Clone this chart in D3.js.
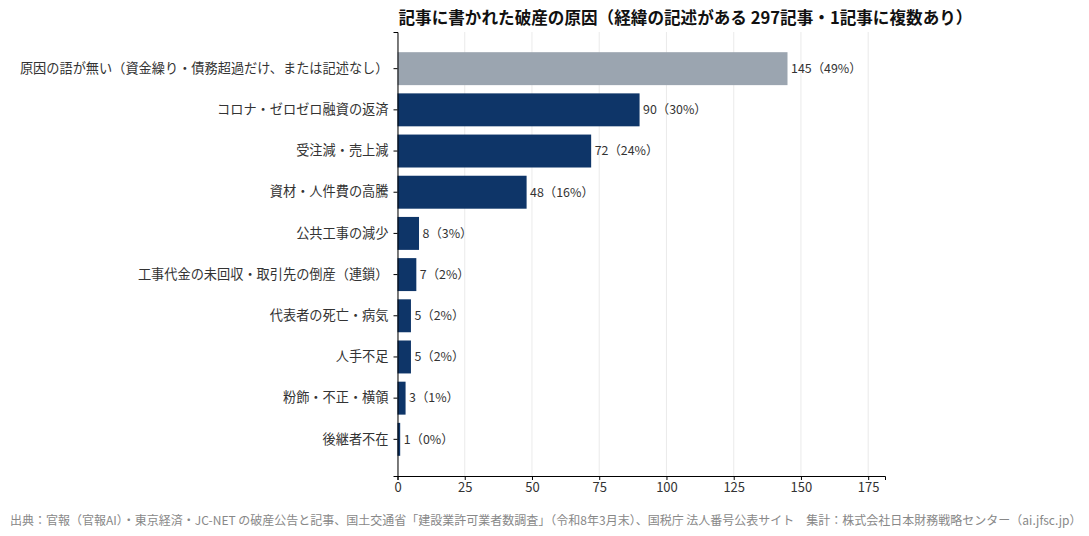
<!DOCTYPE html>
<html>
<head>
<meta charset="utf-8">
<script src="https://cdn.jsdelivr.net/npm/d3@7"></script>
<style>
  body { margin: 0; background: #fff; }
  svg text { font-family: "Noto Sans CJK JP", "Noto Sans", sans-serif; }
</style>
</head>
<body>
<svg id="chart" width="1089" height="536"></svg>
<script>
// causes, top to bottom
const causes = [
  '原因の語が無い（資金繰り・債務超過だけ、または記述なし）',
  'コロナ・ゼロゼロ融資の返済',
  '受注減・売上減',
  '資材・人件費の高騰',
  '公共工事の減少',
  '工事代金の未回収・取引先の倒産（連鎖）',
  '代表者の死亡・病気',
  '人手不足',
  '粉飾・不正・横領',
  '後継者不在'
]
const counts = [145, 90, 72, 48, 8, 7, 5, 5, 3, 1]
const shares = [49, 30, 24, 16, 3, 2, 2, 2, 1, 0]
const xTicks = [0, 25, 50, 75, 100, 125, 150, 175]

const titleText = '記事に書かれた破産の原因（経緯の記述がある 297記事・1記事に複数あり）'
const sourceText = '出典：官報（官報AI）・東京経済・JC-NET の破産公告と記事、国土交通省「建設業許可業者数調査」（令和8年3月末）、国税庁 法人番号公表サイト　集計：株式会社日本財務戦略センター（ai.jfsc.jp）'

const margin = { top: 32, right: 204, bottom: 60, left: 397.5 }
const width = 1089 - margin.left - margin.right
const height = 536 - margin.top - margin.bottom

const svg = d3.select('#chart')
const g = svg.append('g').attr('transform', `translate(${margin.left},${margin.top})`)

const xScale = d3.scaleLinear()
  .domain([0, d3.max(counts) * 1.25])
  .range([0, width])

// like matplotlib barh: 0.8 bar height, about half a step of margin at each end
const yScale = d3.scaleBand()
  .domain(causes)
  .range([0, height])
  .paddingInner(0.2)
  .paddingOuter(0.49)
  .align(0.5)

// grid
g.append('g')
  .selectAll('line')
  .data(xTicks)
  .join('line')
  .attr('x1', d => xScale(d)).attr('x2', d => xScale(d))
  .attr('y1', 0).attr('y2', height)
  .attr('stroke', '#e5e5e5')
  .attr('stroke-width', 0.8)

// bars
g.append('g')
  .selectAll('rect')
  .data(causes)
  .join('rect')
  .attr('x', 0)
  .attr('y', d => yScale(d))
  .attr('width', (d, i) => xScale(counts[i]))
  .attr('height', yScale.bandwidth())
  .attr('fill', (d, i) => i === 0 ? '#9ba5b0' : '#0e3568')

// value labels
g.append('g')
  .selectAll('text')
  .data(causes)
  .join('text')
  .attr('x', (d, i) => xScale(counts[i]) + 3.5)
  .attr('y', d => yScale(d) + yScale.bandwidth() / 2)
  .attr('dy', '0.35em')
  .attr('font-size', 12.4)
  .attr('fill', '#333')
  .text((d, i) => `${counts[i]}（${shares[i]}%）`)

// axes
const xAxis = g.append('g')
  .attr('transform', `translate(0,${height})`)
  .call(d3.axisBottom(xScale).tickValues(xTicks).tickSize(4).tickPadding(3))
xAxis.selectAll('text').attr('font-size', 13).attr('fill', '#333')

const yAxis = g.append('g')
  .call(d3.axisLeft(yScale).tickSize(4).tickPadding(5))
yAxis.selectAll('text').attr('font-size', 13.2).attr('fill', '#333')

svg.selectAll('.domain').attr('stroke', '#000').attr('stroke-width', 1)
svg.selectAll('.tick line').attr('stroke', '#000')
svg.selectAll('.tick text').style('font-family', '"Noto Sans CJK JP", sans-serif')

// title
svg.append('text')
  .attr('x', margin.left + 1)
  .attr('y', 24)
  .attr('font-size', 16.6)
  .attr('font-weight', 'bold')
  .attr('fill', '#111')
  .text(titleText)

// source
svg.append('text')
  .attr('x', 10)
  .attr('y', 525)
  .attr('font-size', 12)
  .attr('fill', '#888')
  .text(sourceText)
</script>
</body>
</html>
